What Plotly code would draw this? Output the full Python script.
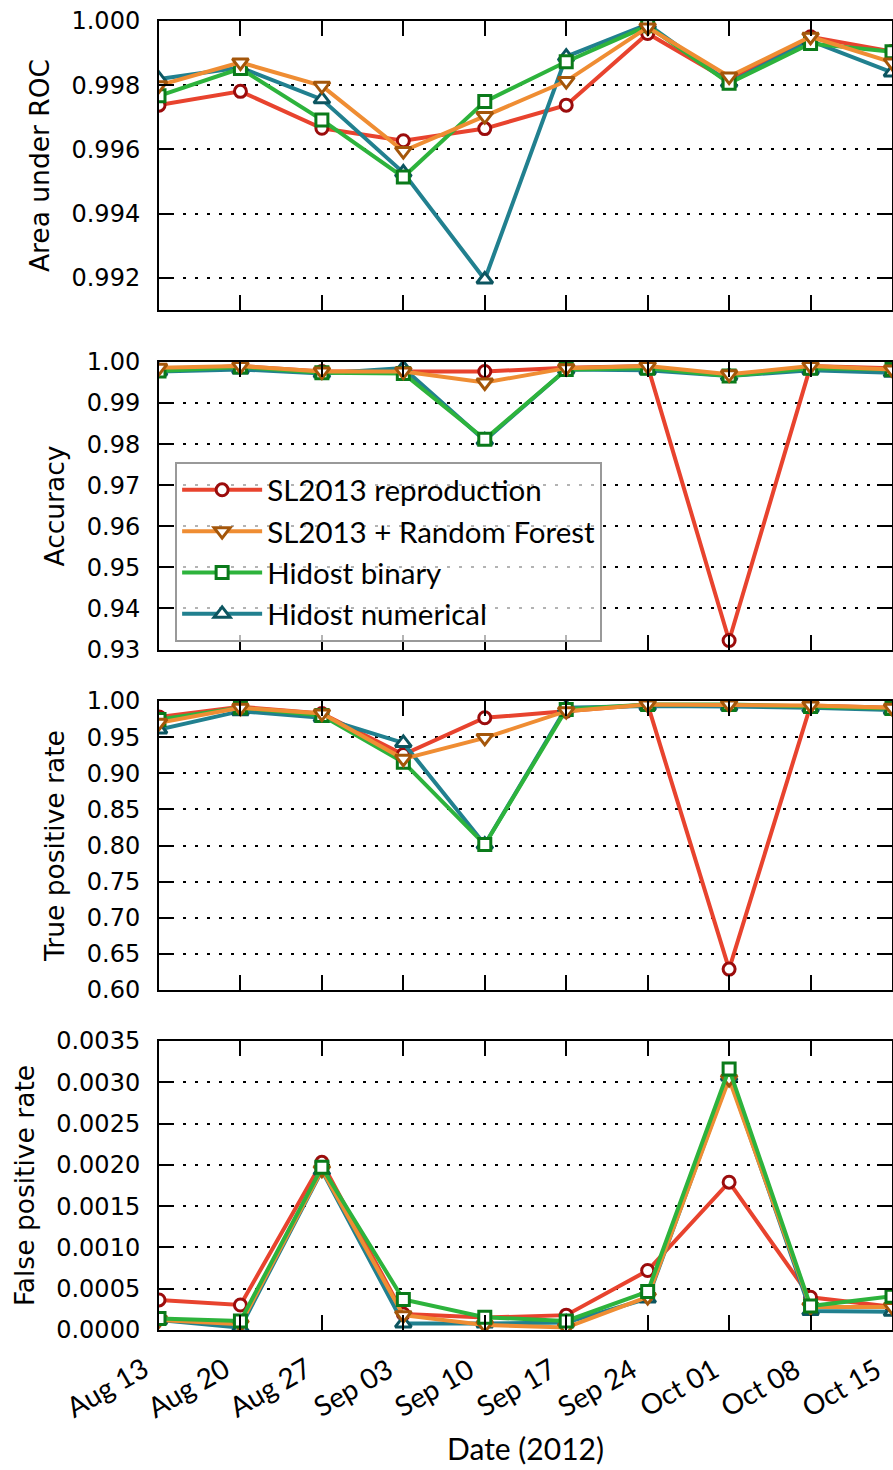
import plotly.graph_objects as go

dates = ["2012-08-13", "2012-08-20", "2012-08-27", "2012-09-03", "2012-09-10",
         "2012-09-17", "2012-09-24", "2012-10-01", "2012-10-08", "2012-10-15"]
tick_labels = ["Aug 13", "Aug 20", "Aug 27", "Sep 03", "Sep 10",
               "Sep 17", "Sep 24", "Oct 01", "Oct 08", "Oct 15"]

series_names = ["SL2013 reproduction", "SL2013 + Random Forest", "Hidost binary", "Hidost numerical"]

auc_sl = [0.99738, 0.99781, 0.99666, 0.99627, 0.99665, 0.99738, 0.99961, 0.99813, 0.99951, 0.99905]
auc_rf = [0.99800, 0.99871, 0.99798, 0.99595, 0.99704, 0.99813, 0.99980, 0.99827, 0.99951, 0.99871]
auc_bin = [0.99767, 0.99852, 0.99692, 0.99514, 0.99749, 0.99873, 0.99985, 0.99806, 0.99930, 0.99904]
auc_num = [0.99819, 0.99855, 0.99756, 0.99528, 0.99195, 0.99889, 0.99990, 0.99808, 0.99938, 0.99840]

acc_sl = [0.9980, 0.9990, 0.9977, 0.9977, 0.9977, 0.9986, 0.9990, 0.9322, 0.9990, 0.9985]
acc_rf = [0.9986, 0.9990, 0.9977, 0.9977, 0.9950, 0.9985, 0.9990, 0.9970, 0.9990, 0.9982]
acc_bin = [0.9978, 0.9988, 0.9974, 0.9972, 0.9812, 0.9982, 0.9985, 0.9966, 0.9985, 0.9982]
acc_num = [0.9977, 0.9982, 0.9972, 0.9985, 0.9809, 0.9982, 0.9980, 0.9966, 0.9980, 0.9974]

tpr_sl = [0.978, 0.992, 0.9828, 0.926, 0.9768, 0.986, 0.9952, 0.629, 0.9939, 0.9906]
tpr_rf = [0.9699, 0.9906, 0.9828, 0.920, 0.949, 0.986, 0.9952, 0.9952, 0.9939, 0.9906]
tpr_bin = [0.9745, 0.9906, 0.980, 0.9154, 0.8013, 0.9883, 0.9952, 0.9952, 0.9925, 0.9897]
tpr_num = [0.9606, 0.986, 0.9768, 0.942, 0.8013, 0.9906, 0.993, 0.9925, 0.9906, 0.9874]

fpr_sl = [0.000364, 0.000303, 0.00203, 0.000194, 0.00015, 0.00018, 0.00072, 0.00179, 0.000396, 0.00028]
fpr_rf = [0.00012, 0.00007, 0.00194, 0.00018, 0.00006, 0.00003, 0.00040, 0.00304, 0.00028, 0.00028]
fpr_bin = [0.00014, 0.00011, 0.00197, 0.00037, 0.000154, 0.00011, 0.000465, 0.00316, 0.00029, 0.00041]
fpr_num = [0.00012, 0.00003, 0.00193, 0.00008, 0.00008, 0.00009, 0.00038, 0.00307, 0.00023, 0.00022]

line_colors = ["#e8432e", "#ef8d33", "#2db33c", "#21808f"]
edge_colors = ["#9b0c0c", "#a4560a", "#0a7a1a", "#0c5560"]
symbols = ["circle", "triangle-down", "square", "triangle-up"]
msizes = [12, 14, 12, 14]

panels = [
    ("Area under ROC", [auc_sl, auc_rf, auc_bin, auc_num], [0.991, 1.000], 0.002, ".3f", [0.7792, 1.0]),
    ("Accuracy", [acc_sl, acc_rf, acc_bin, acc_num], [0.9299, 1.0], 0.01, ".2f", [0.5195, 0.7395]),
    ("True positive rate", [tpr_sl, tpr_rf, tpr_bin, tpr_num], [0.60, 1.00], 0.05, ".2f", [0.2597, 0.4805]),
    ("False positive rate", [fpr_sl, fpr_rf, fpr_bin, fpr_num], [0.0, 0.0035], 0.0005, ".4f", [0.0, 0.2208]),
]
draw_orders = [[0, 3, 2, 1], [0, 3, 2, 1], [0, 3, 2, 1], [0, 3, 1, 2]]

fig = go.Figure()
tick_font = dict(family="DejaVu Sans", size=24, color="black")
x_range = [dates[0], dates[-1]]

for p, (title, data, yr, dt, fmt, dom) in enumerate(panels):
    xa = "x" if p == 0 else f"x{p+1}"
    ya = "y" if p == 0 else f"y{p+1}"
    for i in draw_orders[p]:
        fig.add_trace(go.Scatter(
            x=dates, y=data[i], name=series_names[i], xaxis=xa, yaxis=ya,
            mode="lines+markers",
            line=dict(color=line_colors[i], width=4),
            marker=dict(symbol=symbols[i], size=msizes[i], color="white",
                        line=dict(color=edge_colors[i], width=3)),
            showlegend=(p == 1), legendrank=i + 1,
        ))
    axis_common = dict(showline=True, linecolor="black", linewidth=2, mirror="allticks",
                       ticks="inside", ticklen=15, tickwidth=1.5, tickcolor="black")
    fig.layout[("xaxis" if p == 0 else f"xaxis{p+1}")] = dict(
        **axis_common, type="date", range=x_range,
        tickvals=dates, showgrid=False, zeroline=False,
        anchor=ya, domain=[0, 1], automargin=False,
        showticklabels=False,
        matches=None if p == 0 else "x",
    )
    fig.layout[("yaxis" if p == 0 else f"yaxis{p+1}")] = dict(
        **axis_common, range=yr, dtick=dt, tick0=0, tickformat=fmt,
        showgrid=True, gridcolor="black", gridwidth=2, griddash="3px,9px",
        zeroline=False, domain=dom, anchor=xa, tickfont=tick_font,
        ticklabelstandoff=12, automargin=False,
        title=dict(text=title, font=dict(family="DejaVu Sans", size=26.5, color="black"), standoff=14),
    )

# rotated date labels, right-aligned under each tick of the bottom axis
for d, lab in zip(dates, tick_labels):
    fig.add_annotation(text=lab, x=d, xref="x4", y=0, yref="paper",
                       xanchor="right", yanchor="top", textangle=-30,
                       xshift=-3, yshift=-18, showarrow=False,
                       font=dict(family="Lato", size=28, color="black"))

fig.add_annotation(text="Date (2012)", xref="paper", yref="paper", x=0.5, y=-0.090,
                   showarrow=False, font=dict(family="Lato", size=30, color="black"),
                   xanchor="center", yanchor="middle")

fig.update_layout(
    width=893, height=1470,
    margin=dict(l=159, r=1, t=21, b=140),
    plot_bgcolor="white", paper_bgcolor="white",
    legend=dict(x=0.022, y=0.663, xanchor="left", yanchor="top",
                bgcolor="rgba(255,255,255,0.7)", bordercolor="#999999", borderwidth=2,
                font=dict(family="Lato", size=29.5, color="black"),
                itemwidth=80),
)

fig.write_html("out.html")
